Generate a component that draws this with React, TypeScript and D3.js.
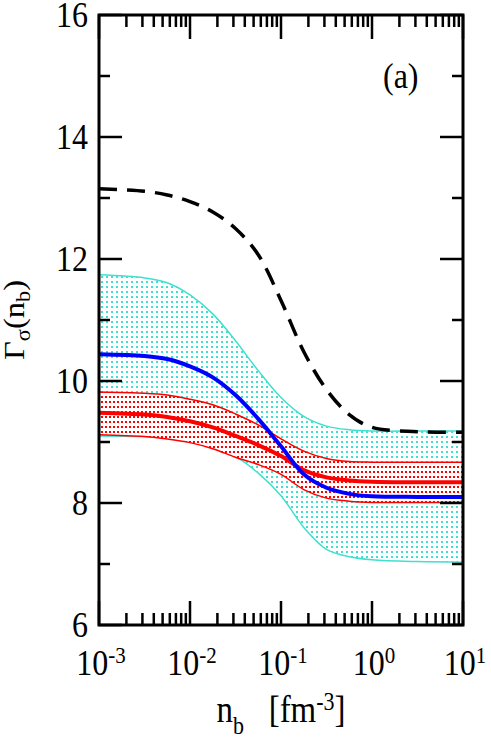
import React from "react";
import * as d3 from "d3";

// baryon density n_b [fm^-3]
const nb = [0.001, 0.00316, 0.00562, 0.01, 0.0178, 0.0316, 0.0562, 0.1, 0.178, 0.316, 0.562, 1, 3.16, 10];

const dashedBlack = [13.15, 13.11, 13.05, 12.94, 12.77, 12.5, 12.07, 11.32, 10.48, 9.86, 9.45, 9.24, 9.17, 9.16];
const cyanUpper = [11.74, 11.69, 11.61, 11.41, 11.1, 10.66, 10.17, 9.73, 9.42, 9.26, 9.2, 9.18, 9.18, 9.18];
const cyanLower = [9.1, 9.09, 9.07, 9.03, 8.92, 8.76, 8.49, 8.12, 7.6, 7.24, 7.12, 7.07, 7.04, 7.03];
const blueLine = [10.44, 10.41, 10.36, 10.24, 10.06, 9.77, 9.38, 8.93, 8.47, 8.25, 8.15, 8.11, 8.1, 8.1];
const redUpper = [9.82, 9.8, 9.77, 9.7, 9.61, 9.46, 9.28, 9.05, 8.85, 8.73, 8.68, 8.67, 8.67, 8.67];
const redMiddle = [9.48, 9.45, 9.41, 9.34, 9.24, 9.1, 8.95, 8.77, 8.54, 8.42, 8.37, 8.35, 8.34, 8.34];
const redLower = [9.12, 9.09, 9.05, 8.99, 8.89, 8.75, 8.63, 8.47, 8.22, 8.08, 8.03, 8.01, 8.01, 8.01];

const xMajor = [0.001, 0.01, 0.1, 1, 10];
const xExponents = ["-3", "-2", "-1", "0", "1"];
const yMajor = [6, 8, 10, 12, 14, 16];
const yMinor = [7, 9, 11, 13, 15];

const W = 491;
const H = 741;
const L = 99, R = 463, T = 15, B = 625;
const FONT = "'Liberation Serif', 'Times New Roman', serif";
const SY = 1.12;

export default function App() {
  const x = d3.scaleLog().domain([1e-3, 1e1]).range([L, R]);
  const y = d3.scaleLinear().domain([6, 16]).range([B, T]);
  const curve = d3.curveCatmullRom.alpha(0.5);

  const line = (vals: number[]) =>
    d3.line<number>().x((_, i) => x(nb[i])).y((v) => y(v)).curve(curve)(vals) || "";
  const band = (lo: number[], hi: number[]) =>
    d3
      .area<number>()
      .x((_, i) => x(nb[i]))
      .y0((_, i) => y(lo[i]))
      .y1((_, i) => y(hi[i]))
      .curve(curve)(nb) || "";

  const xMinor: number[] = [];
  for (let e = -3; e < 1; e++) {
    for (let k = 2; k <= 9; k++) xMinor.push(k * Math.pow(10, e));
  }

  return (
    <svg width={W} height={H} style={{ position: "absolute", left: 0, top: 0, background: "#fff" }} fontFamily={FONT}>
      <defs>
        <pattern id="cyanDots" width={5} height={5} patternUnits="userSpaceOnUse">
          <rect width={5} height={5} fill="#fff" />
          <rect x={1} y={1} width={2} height={2} fill="#40E0D0" />
        </pattern>
        <pattern id="redDots" width={4} height={5} patternUnits="userSpaceOnUse">
          <rect width={4} height={5} fill="#fff" />
          <rect x={1} y={1} width={2} height={2} fill="#FF0000" />
        </pattern>
        <clipPath id="plotClip">
          <rect x={L} y={T} width={R - L} height={B - T} />
        </clipPath>
      </defs>

      <g clipPath="url(#plotClip)">
        <path d={band(cyanLower, cyanUpper)} fill="url(#cyanDots)" />
        <path d={line(cyanUpper)} fill="none" stroke="#40E0D0" strokeWidth={1.5} />
        <path d={line(cyanLower)} fill="none" stroke="#40E0D0" strokeWidth={1.5} />
        <path d={band(redLower, redUpper)} fill="url(#redDots)" />
        <path d={line(redUpper)} fill="none" stroke="#FF0000" strokeWidth={1.5} />
        <path d={line(redLower)} fill="none" stroke="#FF0000" strokeWidth={1.5} />
        <path d={line(redMiddle)} fill="none" stroke="#FF0000" strokeWidth={4} />
        <path d={line(blueLine)} fill="none" stroke="#0000FF" strokeWidth={4} />
        <path d={line(dashedBlack)} fill="none" stroke="#000" strokeWidth={3.5} strokeDasharray="18,10" />
      </g>

      {/* ticks */}
      <g stroke="#000" strokeWidth={2.5}>
        {xMajor.map((v, i) => (
          <g key={"xM" + i}>
            <line x1={x(v)} x2={x(v)} y1={B} y2={B - 24} />
            <line x1={x(v)} x2={x(v)} y1={T} y2={T + 24} />
          </g>
        ))}
        {xMinor.map((v, i) => (
          <g key={"xm" + i}>
            <line x1={x(v)} x2={x(v)} y1={B} y2={B - 12} />
            <line x1={x(v)} x2={x(v)} y1={T} y2={T + 12} />
          </g>
        ))}
        {yMajor.map((v, i) => (
          <g key={"yM" + i}>
            <line x1={L} x2={L + 23} y1={y(v)} y2={y(v)} />
            <line x1={R} x2={R - 23} y1={y(v)} y2={y(v)} />
          </g>
        ))}
        {yMinor.map((v, i) => (
          <g key={"ym" + i}>
            <line x1={L} x2={L + 11} y1={y(v)} y2={y(v)} />
            <line x1={R} x2={R - 11} y1={y(v)} y2={y(v)} />
          </g>
        ))}
      </g>
      <rect x={L} y={T} width={R - L} height={B - T} fill="none" stroke="#000" strokeWidth={3} />

      {/* y tick labels */}
      {yMajor.map((v, i) => (
        <g key={"yl" + i} transform={`translate(${L - 11},${y(v) + 12}) scale(1,${SY})`}>
          <text x={0} y={0} textAnchor="end" fontSize={32} fill="#000">
            {String(v)}
          </text>
        </g>
      ))}

      {/* x tick labels */}
      {xMajor.map((v, i) => (
        <g key={"xl" + i} transform={`translate(${x(v) + 2},675) scale(1,${SY})`}>
          <text x={0} y={0} textAnchor="middle" fontSize={32} fill="#000">
            <tspan>10</tspan>
            <tspan fontSize={21} dy={-11}>
              {xExponents[i]}
            </tspan>
          </text>
        </g>
      ))}

      {/* x title */}
      <g transform={`translate(281,722) scale(1,${SY})`}>
        <text x={0} y={0} textAnchor="middle" fontSize={33} fill="#000">
          <tspan>n</tspan>
          <tspan fontSize={22} dy={11}>b</tspan>
          <tspan dy={-11}>{"\u00A0\u00A0\u00A0[fm"}</tspan>
          <tspan fontSize={22} dy={-11}>-3</tspan>
          <tspan dy={11}>]</tspan>
        </text>
      </g>

      {/* y title */}
      <g transform={`translate(24,320) scale(1,${SY}) rotate(-90)`}>
        <text x={0} y={0} textAnchor="middle" fontSize={29} fill="#000">
          <tspan>Γ</tspan>
          <tspan fontSize={20} dy={6}>σ</tspan>
          <tspan dy={-6}>(n</tspan>
          <tspan fontSize={20} dy={6}>b</tspan>
          <tspan dy={-6}>)</tspan>
        </text>
      </g>

      {/* panel label */}
      <g transform={`translate(383,88) scale(1,${SY})`}>
        <text x={0} y={0} fontSize={32} fill="#000">
          (a)
        </text>
      </g>
    </svg>
  );
}
